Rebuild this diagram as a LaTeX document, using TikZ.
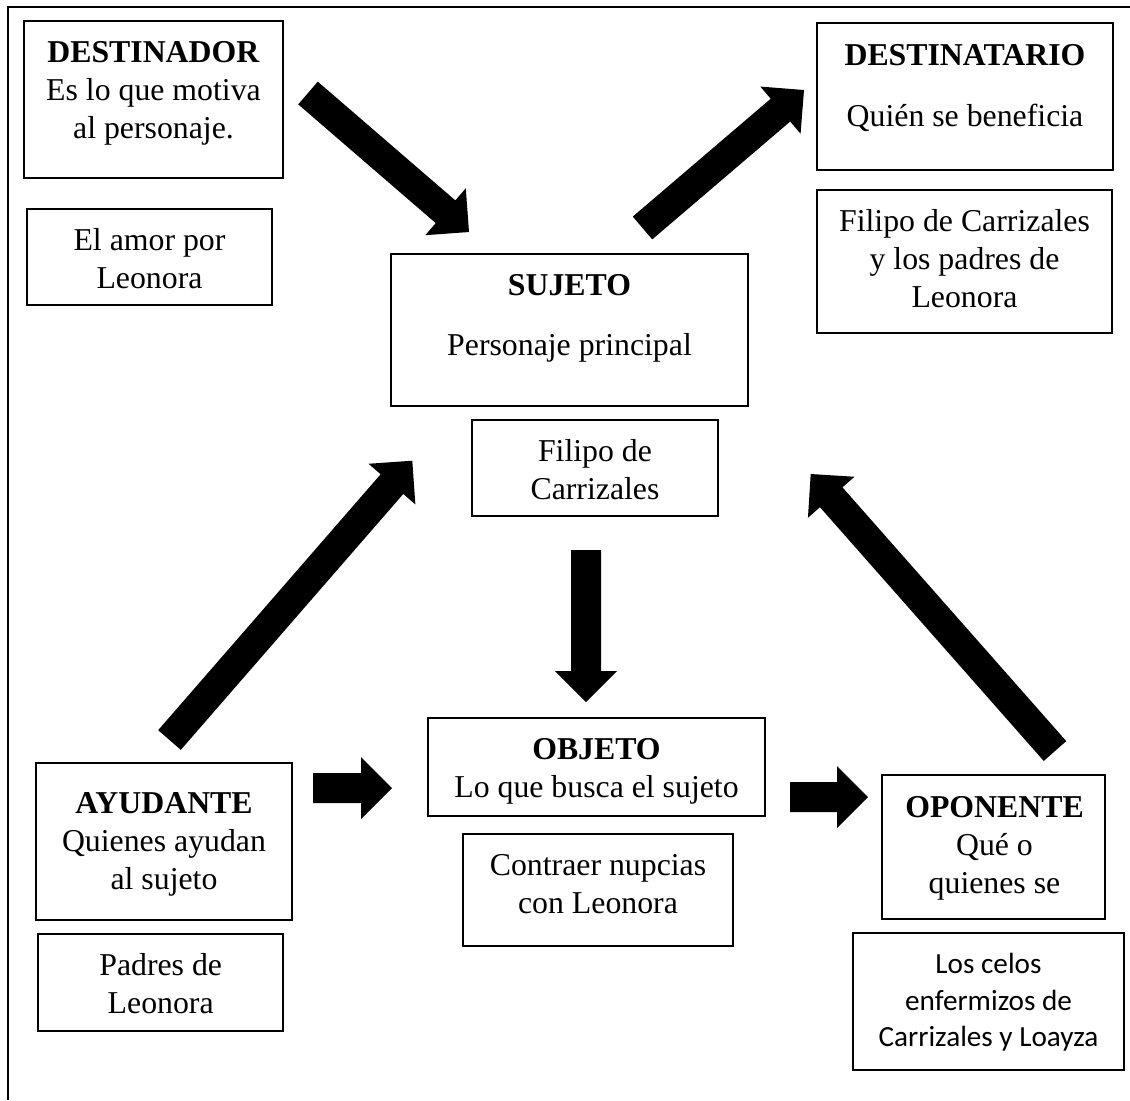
\documentclass[tikz,border=0pt]{standalone}
\usepackage{fontspec}
\setmainfont{Liberation Serif}
\newfontfamily\calibrifont{Carlito}
\usetikzlibrary{calc,fit}
\tikzset{
  box/.style={draw, line width=1.1pt, inner sep=0pt},
  txt/.style={inner sep=0pt, anchor=base, font=\fontsize{15.9}{19}\selectfont},
  ctxt/.style={inner sep=0pt, anchor=base, font=\calibrifont\fontsize{14.6}{18.35}\selectfont},
  frame/.style={line width=1.1pt},
  arrowfill/.style={fill=black}
}
\newcommand\myblockarrow[2]{%
  \coordinate (#1hb) at ($(#2)!15.5pt!(#1)$);
  \fill[arrowfill] ($(#1)!7.5pt!90:(#2)$) -- ($(#1hb)!7.5pt!90:(#2)$) -- ($(#1hb)!15.5pt!90:(#2)$) -- (#2)
    -- ($(#1hb)!15.5pt!-90:(#2)$) -- ($(#1hb)!7.5pt!-90:(#2)$) -- ($(#1)!7.5pt!-90:(#2)$) -- cycle;}
\newcommand\lines[1]{\begin{tabular}[t]{@{}c@{}}#1\end{tabular}}
\begin{document}
\begin{tikzpicture}[x=0.5pt, y=-0.5pt]
\useasboundingbox (0,0) rectangle (1130,1100);
% outer frame
\coordinate (fr1) at (8,1100);
\coordinate (fr2) at (8,7);
\coordinate (fr3) at (1130,7);
\draw[frame] (fr1) -- (fr2) -- (fr3);

% boxes
\node[box, fit={(24,21) (283,178)}] (dest) {};
\node[box, fit={(27,209) (272,305)}] (amor) {};
\node[box, fit={(817,23) (1113,170)}] (destin) {};
\node[box, fit={(817,190) (1112,333)}] (filipor) {};
\node[box, fit={(391,254) (748,406)}] (sujeto) {};
\node[box, fit={(472,420) (718,516)}] (filipoc) {};
\node[box, fit={(428,718) (765,816)}] (objeto) {};
\node[box, fit={(463,834) (733,946)}] (contraer) {};
\node[box, fit={(36,763) (292,920)}] (ayud) {};
\node[box, fit={(38,934) (283,1031)}] (padres) {};
\node[box, fit={(882,775) (1105,919)}] (opon) {};
\node[box, fit={(853,933) (1124,1070)}] (celos) {};

% texts
\node[txt] (dest-t) at (153.5,62.7) {\lines{\textbf{DESTINADOR}\\Es lo que motiva\\al personaje.}};
\node[txt] (amor-t) at (149.5,250) {\lines{El amor por\\Leonora}};
\node[txt] (destin-t) at (965,65) {\lines{\textbf{DESTINATARIO}\\[11.85pt]Quién se beneficia}};
\node[txt] (filipor-t) at (964.5,231) {\lines{Filipo de Carrizales\\y los padres de\\Leonora}};
\node[txt] (sujeto-t) at (569.5,295) {\lines{\textbf{SUJETO}\\[11pt]Personaje principal}};
\node[txt] (filipoc-t) at (595,461.7) {\lines{Filipo de\\Carrizales}};
\node[txt] (objeto-t) at (596.5,759.3) {\lines{\textbf{OBJETO}\\Lo que busca el sujeto}};
\node[txt] (contraer-t) at (598,875) {\lines{Contraer nupcias\\con Leonora}};
\node[txt] (ayud-t) at (164,813.3) {\lines{\textbf{AYUDANTE}\\Quienes ayudan\\al sujeto}};
\node[txt] (padres-t) at (160.7,975) {\lines{Padres de\\Leonora}};
\node[txt] (opon-t) at (994.5,817.3) {\lines{\textbf{OPONENTE}\\Qué o\\quienes se}};
\node[ctxt] (celos-t) at (988.5,973.3) {\lines{Los celos\\enfermizos de\\Carrizales y Loayza}};

% arrows
\coordinate (a1t) at (308,93);    \coordinate (a1h) at (469,232);
\coordinate (a2t) at (642.5,228); \coordinate (a2h) at (804,90);
\coordinate (a3t) at (169.5,740); \coordinate (a3h) at (412.3,460.7);
\coordinate (a4t) at (1055,751);  \coordinate (a4h) at (810.7,474);
\coordinate (a5t) at (586,550);   \coordinate (a5h) at (586,702);
\coordinate (a6t) at (313,788);   \coordinate (a6h) at (392,788);
\coordinate (a7t) at (790,797);   \coordinate (a7h) at (868,797);
\myblockarrow{a1t}{a1h}
\myblockarrow{a2t}{a2h}
\myblockarrow{a3t}{a3h}
\myblockarrow{a4t}{a4h}
\myblockarrow{a5t}{a5h}
\myblockarrow{a6t}{a6h}
\myblockarrow{a7t}{a7h}
\end{tikzpicture}
\end{document}
